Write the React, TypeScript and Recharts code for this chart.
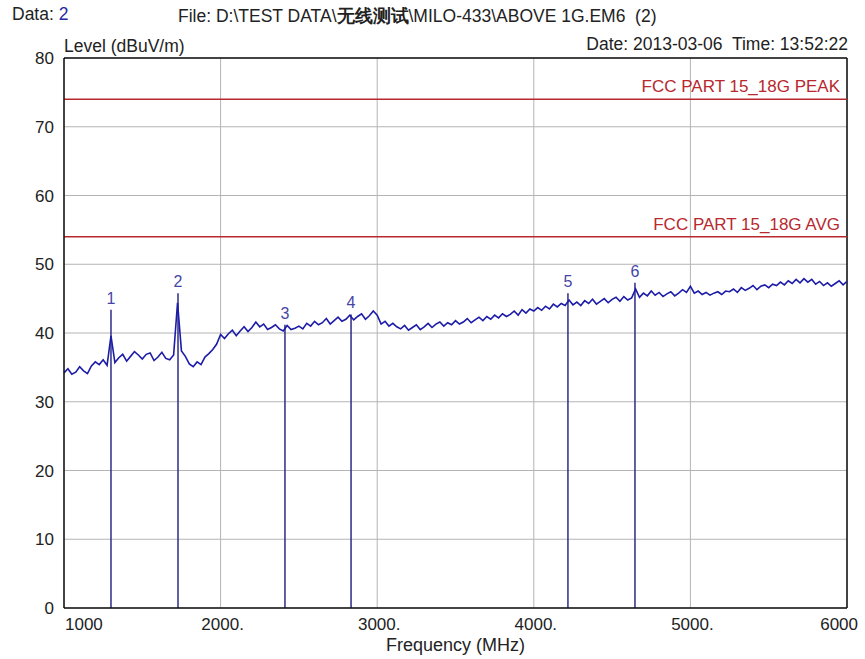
import {
  ComposedChart,
  Line,
  Scatter,
  XAxis,
  YAxis,
  CartesianGrid,
  ReferenceLine,
} from 'recharts'

const FONT = "'Liberation Sans', Arial, sans-serif"

// sweep: 1000 - 6000 MHz, 25 MHz step
const START_FREQ = 1000
const STEP = 25
const levels = [
  34.2, 34.8, 34.0, 34.3, 35.1, 34.5, 34.1, 35.2, 35.8, 35.4,
  36.1, 35.3, 39.6, 35.7, 36.4, 36.9, 35.9, 36.6, 37.3, 36.8,
  36.2, 36.9, 37.1, 36.0, 36.5, 37.2, 36.3, 36.1, 36.8, 44.4,
  37.4, 36.6, 35.5, 35.1, 35.8, 35.4, 36.5, 37.0, 37.6, 38.4,
  39.8, 39.2, 39.9, 40.4, 39.6, 40.3, 40.9, 40.2, 40.8, 41.6,
  40.9, 41.3, 40.5, 40.8, 41.2, 40.6, 40.3, 41.1, 40.5, 40.7,
  41.0, 40.6, 41.4, 41.0, 41.7, 41.2, 41.5, 42.1, 41.3, 41.8,
  42.3, 41.7, 42.0, 42.6, 41.9, 42.4, 42.8, 42.0, 42.5, 43.2,
  42.6, 41.3, 41.7, 41.0, 41.4, 40.9, 40.6, 41.1, 40.4, 40.8,
  41.2, 40.5, 40.9, 41.4, 40.8, 41.3, 41.6, 41.0, 41.5, 41.2,
  41.8, 41.3, 41.6, 42.1, 41.5, 41.9, 42.3, 41.8, 42.4, 42.0,
  42.6, 42.2, 42.8, 42.4, 42.7, 43.2, 42.6, 43.4, 42.9, 43.5,
  43.2, 43.7, 43.3, 43.9, 43.5, 44.2, 43.8, 44.3, 44.0, 44.8,
  44.1, 44.5, 44.0, 44.7, 44.3, 44.9, 44.2, 44.6, 45.0, 44.4,
  44.9, 45.2, 44.6, 45.3, 44.8, 45.1, 46.4, 45.2, 45.8, 45.4,
  46.1, 45.5, 45.9, 45.3, 45.7, 46.0, 45.4, 45.8, 46.3, 45.9,
  46.8, 45.8, 46.1, 45.6, 45.9, 45.5, 45.8, 46.0, 45.6, 46.1,
  46.0, 46.4, 45.9, 46.6, 46.2, 46.5, 46.9, 46.3, 46.8, 47.0,
  46.6, 47.1, 46.9, 47.4, 47.0, 47.6, 47.2, 47.8, 47.3, 47.9,
  47.4, 47.8, 47.1, 47.5, 46.9, 47.3, 46.8, 47.2, 47.6, 47.0,
  47.5,
]

const markerNames = ['1', '2', '3', '4', '5', '6']
const markerFreqs = [1300, 1728, 2411, 2833, 4218, 4646]
const markerLevels = [43.4, 45.8, 41.2, 42.7, 45.8, 47.3]

const limitNames = ['FCC PART 15_18G PEAK', 'FCC PART 15_18G AVG']
const limitLevels = [74, 54]

const xTicks = [1000, 2000, 3000, 4000, 5000, 6000]
const yTicks = [0, 10, 20, 30, 40, 50, 60, 70, 80]

const trace = levels.map((level, i) => ({ freq: START_FREQ + i * STEP, level }))
const markers = markerFreqs.map((freq, i) => ({ freq, level: markerLevels[i], name: markerNames[i] }))

const TRACE = '#1c1ca8'
const MARKER = '#2c2c88'
const LIMIT = '#b8282e'
const TEXT = '#222'

function XTick({ x, y, payload, index }: any) {
  const v = payload.value
  const first = index === 0
  const last = v === 6000
  const text = first || last ? String(v) : `${v}.`
  return (
    <text
      x={first ? x + 1 : last ? x + 11 : x + 2}
      y={y + 14}
      textAnchor={first ? 'start' : last ? 'end' : 'middle'}
      fontSize={17}
      fontFamily={FONT}
      fill={TEXT}
    >
      {text}
    </text>
  )
}

function YTick({ x, y, payload }: any) {
  return (
    <text x={x - 2} y={y + 6} textAnchor="end" fontSize={17} fontFamily={FONT} fill={TEXT}>
      {payload.value}
    </text>
  )
}

function MarkerLabel({ cx, cy, payload }: any) {
  return (
    <text x={cx} y={cy - 6} textAnchor="middle" fontSize={16} fontFamily={FONT} fill="#4646a6">
      {payload.name}
    </text>
  )
}

export default function App() {
  return (
    <div style={{ position: 'absolute', left: 0, top: 0, width: 865, height: 659, background: '#fff', fontFamily: FONT }}>
      <div style={{ position: 'absolute', left: 12, top: 4, fontSize: 17.5, color: TEXT }}>
        Data: <span style={{ color: '#2a2aa0' }}>2</span>
      </div>
      <div style={{ position: 'absolute', left: 178, top: 4, fontSize: 17.5, color: TEXT, whiteSpace: 'pre' }}>
        {'File: D:\\TEST DATA\\'}<b>无线测试</b>{'\\MILO-433\\ABOVE 1G.EM6  (2)'}
      </div>
      <div style={{ position: 'absolute', left: 64, top: 36, fontSize: 17.5, color: TEXT }}>Level (dBuV/m)</div>
      <div style={{ position: 'absolute', right: 17, top: 34, fontSize: 17.5, color: TEXT, whiteSpace: 'pre' }}>
        Date: 2013-03-06  Time: 13:52:22
      </div>
      <div style={{ position: 'absolute', left: 386, top: 635, fontSize: 18, color: TEXT }}>Frequency (MHz)</div>

      <ComposedChart width={865} height={659} data={trace} margin={{ top: 58, right: 18, bottom: 0, left: 0 }}>
        <CartesianGrid stroke="#b4b4b4" strokeWidth={1} />
        <XAxis
          dataKey="freq"
          type="number"
          domain={[1000, 6000]}
          ticks={xTicks}
          height={51}
          tickLine={false}
          axisLine={{ stroke: '#111', strokeWidth: 1.5 }}
          tick={<XTick />}
          interval={0}
        />
        <YAxis
          type="number"
          domain={[0, 80]}
          ticks={yTicks}
          width={64}
          tickLine={false}
          axisLine={{ stroke: '#111', strokeWidth: 1.5 }}
          tick={<YTick />}
          interval={0}
        />
        <ReferenceLine y={80} stroke="#111" strokeWidth={1.5} />
        <ReferenceLine x={6000} stroke="#111" strokeWidth={1.5} />
        {limitLevels.map((lv, i) => (
          <ReferenceLine
            key={limitNames[i]}
            y={lv}
            stroke={LIMIT}
            strokeWidth={1.5}
            label={{ value: limitNames[i], position: 'insideBottomRight', offset: 7, fill: LIMIT, fontSize: 17, fontFamily: FONT }}
          />
        ))}
        {markers.map((m) => (
          <ReferenceLine
            key={m.name}
            segment={[{ x: m.freq, y: 0 }, { x: m.freq, y: m.level }]}
            stroke={MARKER}
            strokeWidth={1.5}
          />
        ))}
        <Line
          dataKey="level"
          type="linear"
          stroke={TRACE}
          strokeWidth={1.6}
          dot={false}
          isAnimationActive={false}
        />
        <Scatter data={markers} dataKey="level" shape={<MarkerLabel />} isAnimationActive={false} />
      </ComposedChart>
    </div>
  )
}
